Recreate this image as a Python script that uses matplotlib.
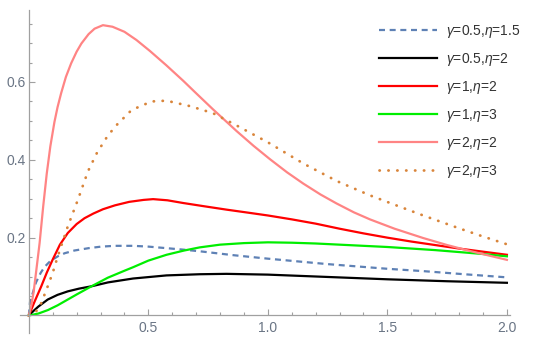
import matplotlib
matplotlib.use("Agg")
import matplotlib.pyplot as plt
from matplotlib.ticker import FixedLocator

plt.rcParams['font.family'] = ['Liberation Sans', 'DejaVu Sans']
plt.rcParams['mathtext.fontset'] = 'custom'
plt.rcParams['mathtext.rm'] = 'Liberation Sans'
plt.rcParams['mathtext.it'] = 'Liberation Sans:italic'

# values
x_g05_e15 = [0, 0.005, 0.015, 0.03, 0.05, 0.066, 0.09, 0.121, 0.15, 0.191, 0.25, 0.303, 0.36,
             0.436, 0.5, 0.576, 0.65, 0.715, 0.855, 1.0, 1.25, 1.5, 1.65, 1.8, 2.0]
y_g05_e15 = [0, 0.035, 0.055, 0.085, 0.11, 0.125, 0.14, 0.152, 0.16, 0.167, 0.173, 0.177, 0.179,
             0.179, 0.177, 0.173, 0.169, 0.165, 0.155, 0.146, 0.132, 0.12, 0.114, 0.107, 0.098]

x_g05_e2 = [0, 0.02, 0.04, 0.079, 0.12, 0.163, 0.21, 0.262, 0.331, 0.436, 0.576, 0.715, 0.827,
            1.0, 1.25, 1.5, 1.75, 2.0]
y_g05_e2 = [0, 0.012, 0.023, 0.041, 0.053, 0.062, 0.069, 0.075, 0.085, 0.095, 0.103, 0.106, 0.107,
            0.105, 0.099, 0.093, 0.088, 0.084]

x_g1_e2 = [0, 0.025, 0.052, 0.075, 0.1, 0.13, 0.163, 0.2, 0.233, 0.27, 0.31, 0.36, 0.42, 0.48,
           0.52, 0.58, 0.646, 0.73, 0.827, 0.92, 1.0, 1.1, 1.2, 1.3, 1.4, 1.5, 1.6, 1.7, 1.8, 1.9, 2.0]
y_g1_e2 = [0, 0.037, 0.075, 0.11, 0.144, 0.182, 0.212, 0.235, 0.25, 0.262, 0.273, 0.283, 0.292, 0.297,
           0.299, 0.296, 0.289, 0.281, 0.272, 0.264, 0.257, 0.247, 0.236, 0.223, 0.211, 0.2, 0.19, 0.181,
           0.172, 0.164, 0.156]

x_g1_e3 = [0, 0.04, 0.08, 0.12, 0.16, 0.2, 0.262, 0.33, 0.4, 0.436, 0.5, 0.576, 0.65, 0.715, 0.8,
           0.9, 1.0, 1.1, 1.2, 1.3, 1.4, 1.5, 1.6, 1.7, 1.8, 1.9, 2.0]
y_g1_e3 = [0, 0.005, 0.014, 0.026, 0.04, 0.054, 0.075, 0.097, 0.115, 0.124, 0.141, 0.156, 0.167, 0.175,
           0.182, 0.186, 0.188, 0.187, 0.185, 0.182, 0.179, 0.176, 0.172, 0.168, 0.163, 0.158, 0.152]

x_g2_e2 = [0, 0.01, 0.02, 0.03, 0.045, 0.06, 0.075, 0.09, 0.107, 0.12, 0.135, 0.155, 0.177, 0.2,
           0.22, 0.25, 0.275, 0.31, 0.35, 0.4, 0.45, 0.506, 0.575, 0.646, 0.7, 0.77, 0.869, 0.94,
           1.008, 1.08, 1.148, 1.22, 1.287, 1.36, 1.427, 1.53, 1.65, 1.75, 1.85, 2.0]
y_g2_e2 = [0, 0.025, 0.06, 0.11, 0.186, 0.28, 0.365, 0.435, 0.497, 0.535, 0.571, 0.613, 0.648, 0.678,
           0.699, 0.723, 0.737, 0.746, 0.742, 0.729, 0.708, 0.68, 0.643, 0.603, 0.571, 0.53, 0.474, 0.436,
           0.402, 0.368, 0.339, 0.311, 0.288, 0.265, 0.247, 0.223, 0.199, 0.181, 0.165, 0.143]

x_g2_e3 = [0, 0.03, 0.052, 0.079, 0.1, 0.121, 0.163, 0.205, 0.247, 0.285, 0.324, 0.36, 0.43, 0.513,
           0.576, 0.674, 0.77, 0.87, 1.0, 1.15, 1.29, 1.43, 1.55, 1.65, 1.8, 1.9, 2.0]
y_g2_e3 = [0, 0.01, 0.032, 0.075, 0.11, 0.152, 0.229, 0.297, 0.37, 0.418, 0.456, 0.485, 0.528, 0.55,
           0.552, 0.538, 0.52, 0.488, 0.445, 0.39, 0.345, 0.308, 0.28, 0.257, 0.224, 0.203, 0.183]

labels = [r'$\gamma$=0.5,$\eta$=1.5', r'$\gamma$=0.5,$\eta$=2', r'$\gamma$=1,$\eta$=2',
          r'$\gamma$=1,$\eta$=3', r'$\gamma$=2,$\eta$=2', r'$\gamma$=2,$\eta$=3']

fig = plt.figure(figsize=(5.5, 3.41), dpi=100)
ax = fig.add_axes([20 / 550, 8 / 341, 490 / 550, 323 / 341])

lw = 1.6
ax.plot(x_g05_e15, y_g05_e15, color='#5e81b5', lw=lw, dashes=(2.7, 2.1), label=labels[0])
ax.plot(x_g05_e2, y_g05_e2, color='black', lw=lw, label=labels[1])
ax.plot(x_g1_e2, y_g1_e2, color='#ff0000', lw=lw, label=labels[2])
ax.plot(x_g1_e3, y_g1_e3, color='#00ee00', lw=lw, label=labels[3])
ax.plot(x_g2_e2, y_g2_e2, color='#ff8484', lw=lw, label=labels[4])
ax.plot(x_g2_e3, y_g2_e3, color='#d9853b', lw=2.0, dashes=(0.1, 3.1),
        dash_capstyle='round', label=labels[5])

ax.set_xlim(-0.037, 2.013)
ax.set_ylim(-0.045, 0.785)

for s in ['top', 'right']:
    ax.spines[s].set_visible(False)
for s in ['left', 'bottom']:
    ax.spines[s].set_position(('data', 0))
    ax.spines[s].set_color('#a0a0a0')
    ax.spines[s].set_linewidth(0.9)
# let the axis lines run across the whole padded range
ax.spines['bottom'].set_bounds(-0.037, 2.013)
ax.spines['left'].set_bounds(-0.045, 0.785)

ax.xaxis.set_major_locator(FixedLocator([0.5, 1.0, 1.5, 2.0]))
ax.xaxis.set_minor_locator(FixedLocator([0.1, 0.2, 0.3, 0.4, 0.6, 0.7, 0.8, 0.9,
                                         1.1, 1.2, 1.3, 1.4, 1.6, 1.7, 1.8, 1.9]))
ax.yaxis.set_major_locator(FixedLocator([0.2, 0.4, 0.6]))
ax.yaxis.set_minor_locator(FixedLocator([0.05, 0.1, 0.15, 0.25, 0.3, 0.35, 0.45,
                                         0.5, 0.55, 0.65, 0.7, 0.75]))
ax.set_xticklabels(['0.5', '1.0', '1.5', '2.0'])
ax.set_yticklabels(['0.2', '0.4', '0.6'])
ax.tick_params(which='both', direction='in', color='#a0a0a0', width=0.8,
               labelcolor='#6a7585', labelsize=10)
ax.tick_params(which='major', length=4.5)
ax.tick_params(which='minor', length=2.5)
ax.tick_params(axis='x', pad=4)
ax.tick_params(axis='y', pad=2)

leg = ax.legend(loc='upper left', bbox_to_anchor=(379 / 550, 1 - 23 / 341),
                bbox_transform=fig.transFigure, frameon=False, fontsize=10,
                handlelength=4.2, handletextpad=0.65, labelspacing=0.79, borderpad=0,
                borderaxespad=0)
for t in leg.get_texts():
    t.set_color('#333333')

fig.savefig('out.png', dpi=100)
